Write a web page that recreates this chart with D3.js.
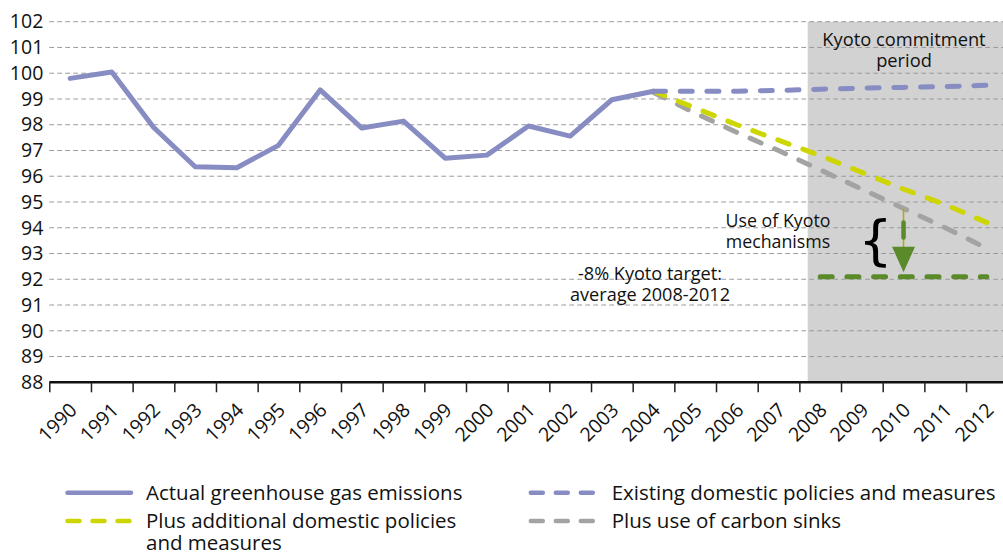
<!DOCTYPE html>
<html>
<head>
<meta charset="utf-8">
<script src="https://cdn.jsdelivr.net/npm/d3@7"></script>
<style>
  html, body { margin: 0; padding: 0; background: #fff; }
  svg { display: block; font-family: "Open Sans", "Noto Sans", sans-serif; }
</style>
</head>
<body>
<svg id="chart" width="1003" height="556"></svg>
<script>
// ---------- data ----------
const years = d3.range(1990, 2013);
const yTicks = d3.range(88, 103);
const actualYears = [1990,1991,1992,1993,1994,1995,1996,1997,1998,1999,2000,2001,2002,2003,2004];
const actualValues = [99.8,100.05,97.9,96.37,96.33,97.2,99.35,97.87,98.14,96.7,96.82,97.95,97.56,98.97,99.3];
const projYears = [2004,2005,2006,2007,2008,2009,2010,2011,2012];
const existingValues = [99.3,99.3,99.3,99.33,99.38,99.42,99.45,99.48,99.53];
const additionalValues = [99.3,98.65,98.0,97.4,96.8,96.15,95.5,94.9,94.2];
const sinksValues = [99.25,98.45,97.7,97.0,96.25,95.5,94.75,94.0,93.2];
const targetYears = [2008, 2012];
const targetValues = [92.1, 92.1];
const kyotoPeriod = [2007.7, 2012.5];
const mechanismYear = 2010;
const legendItems = [
  {label: ["Actual greenhouse gas emissions"], key: "actual"},
  {label: ["Existing domestic policies and measures"], key: "existing"},
  {label: ["Plus additional domestic policies", "and measures"], key: "additional"},
  {label: ["Plus use of carbon sinks"], key: "sinks"}
];

// ---------- styles ----------
const colors = {
  actual: "#878cc2",
  existing: "#878cc2",
  additional: "#cdd600",
  sinks: "#a3a3a3",
  target: "#5a8a2a",
  shade: "#d2d2d2",
  grid: "#9a9a9a"
};
const dashes = {actual: null, existing: "12 14.7", additional: "12 14.7", sinks: "12 14.7"};

const svg = d3.select("#chart");
const left = 49.3, plotTop = 21.7, plotBottom = 382.3;
const x = d3.scaleLinear().domain([1989.5, 2012.5]).range([left, left + 23 * 41.67]);
const y = d3.scaleLinear().domain([88, 102]).range([plotBottom, plotTop]);

// shaded Kyoto commitment period
svg.append("rect")
  .attr("x", x(kyotoPeriod[0]))
  .attr("y", y(102))
  .attr("width", x(kyotoPeriod[1]) - x(kyotoPeriod[0]))
  .attr("height", y(88) - y(102))
  .attr("fill", colors.shade);

// gridlines
svg.append("g").selectAll("line")
  .data(yTicks.filter(d => d > 88))
  .join("line")
  .attr("x1", left).attr("x2", 1003)
  .attr("y1", d => y(d)).attr("y2", d => y(d))
  .attr("stroke", colors.grid)
  .attr("stroke-width", 1)
  .attr("stroke-dasharray", "4.7 3.3");

// y axis labels
const yAxis = d3.axisLeft(y).tickValues(yTicks).tickSize(0).tickPadding(6).tickFormat(d3.format("d"));
const gy = svg.append("g").attr("transform", `translate(${left},0)`).call(yAxis);
gy.select(".domain").remove();
gy.selectAll("text").attr("font-size", 19.5).attr("fill", "#111").attr("font-family", "Open Sans");

// x axis
const xAxis = d3.axisBottom(x)
  .tickValues(d3.range(1989.5, 2013.5, 1))
  .tickSize(10)
  .tickFormat("");
const gx = svg.append("g").attr("transform", `translate(0,${plotBottom})`).call(xAxis);
gx.select(".domain").attr("stroke", "#111").attr("stroke-width", 2.6)
  .attr("d", `M${left},0H1003`);
gx.selectAll(".tick line").attr("stroke", "#222").attr("stroke-width", 1.5);

svg.append("g").selectAll("text")
  .data(years)
  .join("text")
  .attr("transform", d => `translate(${x(d) + 8},${plotBottom + 29}) rotate(-45)`)
  .attr("text-anchor", "end")
  .attr("font-size", 19.5)
  .attr("fill", "#111")
  .text(d => d);

// lines
const line = d3.line().x(d => x(d[0])).y(d => y(d[1]));
function drawSeries(xs, vs, color, dash, width) {
  svg.append("path")
    .datum(xs.map((d, i) => [d, vs[i]]))
    .attr("d", line)
    .attr("fill", "none")
    .attr("stroke", color)
    .attr("stroke-width", width)
    .attr("stroke-linecap", "round")
    .attr("stroke-linejoin", "round")
    .attr("stroke-dasharray", dash);
}
drawSeries(projYears, sinksValues, colors.sinks, dashes.sinks, 5);
drawSeries(projYears, additionalValues, colors.additional, dashes.additional, 5);
drawSeries(projYears, existingValues, colors.existing, dashes.existing, 5);
drawSeries(actualYears, actualValues, colors.actual, null, 5);
drawSeries(targetYears, targetValues, colors.target, "12 14.7", 5);

// Kyoto mechanisms arrow
const ax = x(mechanismYear);
const sinkAt = sinksValues[projYears.indexOf(mechanismYear)];
svg.append("line")
  .attr("x1", ax).attr("x2", ax)
  .attr("y1", y(sinkAt)).attr("y2", y(targetValues[0]) - 12)
  .attr("stroke", "#a9b000").attr("stroke-width", 1.5);
svg.append("line")
  .attr("x1", ax).attr("x2", ax)
  .attr("y1", y(sinkAt) + 14).attr("y2", y(sinkAt) + 29)
  .attr("stroke", colors.target).attr("stroke-width", 4.5).attr("stroke-linecap", "round");
const tipY = y(targetValues[0]) - 4.5;
svg.append("path")
  .attr("d", `M${ax - 11.5},${tipY - 25.5}L${ax + 11.5},${tipY - 25.5}L${ax},${tipY}Z`)
  .attr("fill", colors.target);

// brace
svg.append("text")
  .attr("x", ax - 28).attr("y", 259)
  .attr("text-anchor", "middle")
  .attr("font-size", 54)
  .attr("font-family", "DejaVu Sans")
  .attr("fill", "#000")
  .text("{");

// annotations
function multiText(lines, cx, baselines, size) {
  const t = svg.append("text").attr("text-anchor", "middle").attr("font-size", size).attr("fill", "#111");
  lines.forEach((l, i) => t.append("tspan").attr("x", cx).attr("y", baselines[i]).text(l));
}
multiText(["Kyoto commitment", "period"], 904, [45.5, 66.5], 18.3);
multiText(["Use of Kyoto", "mechanisms"], 778, [226.5, 248], 17.8);
multiText(["-8% Kyoto target:", "average 2008-2012"], 650, [280, 301], 18.1);

// legend
const legendPos = [
  {sx: 65, tx: 146, y: 492.8},
  {sx: 528.3, tx: 611.7, y: 492.8},
  {sx: 65, tx: 146, y: 521},
  {sx: 528.3, tx: 611.7, y: 521}
];
legendItems.forEach((item, i) => {
  const p = legendPos[i];
  svg.append("line")
    .attr("x1", p.sx + 2.5).attr("x2", p.sx + 66)
    .attr("y1", p.y).attr("y2", p.y)
    .attr("stroke", colors[item.key])
    .attr("stroke-width", 4.5)
    .attr("stroke-linecap", "round")
    .attr("stroke-dasharray", dashes[item.key] ? "12 13" : null);
  const t = svg.append("text").attr("font-size", 20.5).attr("fill", "#111");
  item.label.forEach((l, j) => t.append("tspan").attr("x", p.tx).attr("y", p.y + 7 + j * 22).text(l));
});
</script>
</body>
</html>
